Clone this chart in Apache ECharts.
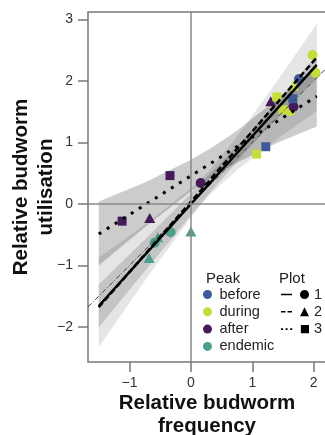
<!DOCTYPE html>
<html>
<head>
<meta charset="utf-8">
<script src="https://cdn.jsdelivr.net/npm/echarts@6/dist/echarts.min.js"></script>
<style>
  html, body { margin: 0; padding: 0; background: #fff; }
  #chart { width: 325px; height: 435px; }
</style>
</head>
<body>
<div id="chart"></div>
<script>
const xMin = -1.675, xMax = 2.2, yMin = -2.57, yMax = 3.12;
const xTicks = [-1, 0, 1, 2];
const yTicks = [-2, -1, 0, 1, 2, 3];

const peaks = ['before', 'during', 'after', 'endemic'];
const peakColors = ['#3f5b97', '#c5de3b', '#451a5b', '#4e9e8e'];
const plots = ['1', '2', '3'];

// observed points [x, y], by plot and peak
const plot1Before = [[1.76, 2.03]];
const plot1During = [[1.98, 2.42], [2.03, 2.13], [1.62, 1.51]];
const plot1After = [[1.67, 1.58], [0.16, 0.34]];
const plot1Endemic = [[-0.33, -0.46], [-0.59, -0.63]];
const plot2Before = [];
const plot2During = [[1.67, 1.92]];
const plot2After = [[1.30, 1.67], [-0.67, -0.23]];
const plot2Endemic = [[0.0, -0.45], [-0.54, -0.54], [-0.68, -0.88]];
const plot3Before = [[1.66, 1.71], [1.22, 0.93]];
const plot3During = [[1.40, 1.74], [1.50, 1.53], [1.07, 0.81]];
const plot3After = [[-0.34, 0.46], [-1.12, -0.28]];
const plot3Endemic = [];

// fitted lines
const fitX = [-1.5, 2.05];
const fit1 = [-1.66, 2.26];
const fit2 = [-1.68, 2.38];
const fit3 = [-0.49, 1.75];
const oneToOneX = [-1.675, 2.2];
const oneToOneY = [-1.675, 2.2];

// confidence bands
const band1X = [-1.5, -0.75, 0, 0.5, 1.0, 1.5, 2.05];
const band1Upper = [-1.31, -0.58, 0.17, 0.68, 1.21, 1.78, 2.43];
const band1Lower = [-2.01, -1.09, -0.19, 0.40, 0.97, 1.50, 2.06];
const band2X = [-1.5, -0.75, 0, 0.3, 0.75, 1.4, 2.05];
const band2Upper = [-0.87, -0.34, 0.25, 0.54, 1.09, 1.99, 2.93];
const band2Lower = [-2.33, -1.25, -0.22, 0.14, 0.55, 1.05, 1.51];
const band3X = [-1.5, -0.75, 0, 0.35, 0.75, 1.4, 2.05];
const band3Upper = [0.04, 0.35, 0.72, 0.92, 1.19, 1.70, 2.24];
const band3Lower = [-1.0, -0.38, 0.2, 0.44, 0.67, 0.99, 1.26];

const font = 'Liberation Sans, Arial, Helvetica, sans-serif';

const chart = echarts.init(document.getElementById('chart'), null, { renderer: 'canvas' });

const zip = (xs, ys) => xs.map((x, i) => [x, ys[i]]);

function band(xs, up, lo, fill) {
  return {
    type: 'custom',
    silent: true,
    data: xs.map((x, i) => [x, up[i], lo[i]]),
    encode: { x: 0, y: [1, 2] },
    renderItem: (params, api) => {
      if (params.dataIndex !== 0) return null;
      const top = xs.map((x, i) => api.coord([x, up[i]]));
      const bottom = xs.map((x, i) => api.coord([x, lo[i]])).reverse();
      return { type: 'polygon', shape: { points: top.concat(bottom) }, style: { fill: fill } };
    }
  };
}

function fitLine(name, ys, type, width) {
  return {
    name: name,
    type: 'line',
    data: zip(fitX, ys),
    showSymbol: false,
    silent: true,
    itemStyle: { color: '#000' },
    lineStyle: { color: '#000', width: width, type: type, cap: 'butt' }
  };
}

const symbols = ['circle', 'triangle', 'rect'];
const sizes = [10, [11, 10], 9];
const pointSets = [
  [plot1Before, plot1During, plot1After, plot1Endemic],
  [plot2Before, plot2During, plot2After, plot2Endemic],
  [plot3Before, plot3During, plot3After, plot3Endemic]
];
const pointSeries = [];
pointSets.forEach((sets, p) => {
  sets.forEach((pts, k) => {
    pointSeries.push({
      name: peaks[k],
      type: 'scatter',
      data: pts,
      symbol: symbols[p],
      symbolSize: sizes[p],
      silent: true,
      itemStyle: { color: peakColors[k], opacity: 1 }
    });
  });
});

const plotIcons = [
  'path://M0,3.7h11v1.6h-11z M28,4.5a4.5,4.5 0 1,1 -9,0a4.5,4.5 0 1,1 9,0z',
  'path://M0,3.7h4.5v1.6h-4.5z M6.5,3.7h4.5v1.6h-4.5z M19,9L23.5,0L28,9z',
  'path://M0,3.7h2v1.6h-2z M4.5,3.7h2v1.6h-2z M9,3.7h2v1.6h-2z M19.5,0.5h8v8h-8z'
];

const option = {
  animation: false,
  backgroundColor: '#fff',
  textStyle: { fontFamily: font },
  title: [
    { text: 'Peak', left: 206, top: 271, padding: 0,
      textStyle: { fontFamily: font, fontSize: 15, fontWeight: 'normal', color: '#222' } },
    { text: 'Plot', left: 279, top: 271, padding: 0,
      textStyle: { fontFamily: font, fontSize: 15, fontWeight: 'normal', color: '#222' } }
  ],
  legend: [
    {
      orient: 'vertical', left: 203, top: 286, padding: 0,
      itemWidth: 14, itemHeight: 9, itemGap: 0.3, selectedMode: false,
      textStyle: { fontFamily: font, fontSize: 14.5, lineHeight: 17, color: '#222' },
      data: peaks.map((p, i) => ({ name: p, icon: 'circle', itemStyle: { color: peakColors[i], borderWidth: 0 } }))
    },
    {
      orient: 'vertical', left: 281, top: 286, padding: 0,
      itemWidth: 28, itemHeight: 9, itemGap: 0.3, selectedMode: false,
      textStyle: { fontFamily: font, fontSize: 14.5, lineHeight: 17, color: '#222' },
      data: plots.map((p, i) => ({ name: p, icon: plotIcons[i], itemStyle: { color: '#000', borderWidth: 0 } }))
    }
  ],
  grid: {
    left: 88, top: 12, width: 238, height: 350,
    outerBoundsMode: 'none', containLabel: false,
    show: true, borderColor: '#777', borderWidth: 1.5, backgroundColor: 'transparent'
  },
  xAxis: {
    type: 'value', min: xMin, max: xMax,
    name: 'Relative budworm\nfrequency',
    nameLocation: 'middle', nameGap: 30, nameMoveOverlap: false,
    nameTextStyle: { fontFamily: font, fontSize: 20.5, fontWeight: 'bold', color: '#111', lineHeight: 23 },
    axisLine: { show: false, onZero: false },
    axisTick: { show: true, length: 10, customValues: xTicks, lineStyle: { color: '#777', width: 1.5 } },
    axisLabel: { customValues: xTicks, margin: 14, fontSize: 14, color: '#333', fontFamily: font,
      formatter: v => (v < 0 ? '\u2212' + Math.abs(v) : String(v)) },
    splitLine: { show: false }
  },
  yAxis: {
    type: 'value', min: yMin, max: yMax,
    name: 'Relative budworm\nutilisation',
    nameLocation: 'middle', nameGap: 29, nameRotate: 90, nameMoveOverlap: false,
    nameTextStyle: { fontFamily: font, fontSize: 20.5, fontWeight: 'bold', color: '#111', lineHeight: 25 },
    axisLine: { show: false, onZero: false },
    axisTick: { show: true, length: 10, customValues: yTicks, lineStyle: { color: '#777', width: 1.5 } },
    axisLabel: { customValues: yTicks, margin: 15, fontSize: 14, color: '#333', fontFamily: font,
      formatter: v => (v < 0 ? '\u2212' + Math.abs(v) : String(v)) },
    splitLine: { show: false }
  },
  series: [
    band(band2X, band2Upper, band2Lower, 'rgba(0,0,0,0.10)'),
    band(band1X, band1Upper, band1Lower, 'rgba(0,0,0,0.14)'),
    band(band3X, band3Upper, band3Lower, 'rgba(0,0,0,0.20)'),
    {
      name: 'ref',
      type: 'line',
      data: zip(oneToOneX, oneToOneY),
      showSymbol: false,
      silent: true,
      lineStyle: { color: '#444', width: 1, type: [5, 2, 1, 2] },
      markLine: {
        silent: true, symbol: 'none', label: { show: false },
        lineStyle: { color: '#888', width: 1.5, type: 'solid' },
        data: [{ xAxis: 0 }, { yAxis: 0 }]
      }
    },
    fitLine('3', fit3, [3, 6.5], 3),
    fitLine('2', fit2, [6, 3], 2.5),
    fitLine('1', fit1, 'solid', 2.5)
  ].concat(pointSeries)
};

chart.setOption(option);
window.addEventListener('resize', () => chart.resize());
</script>
</body>
</html>
